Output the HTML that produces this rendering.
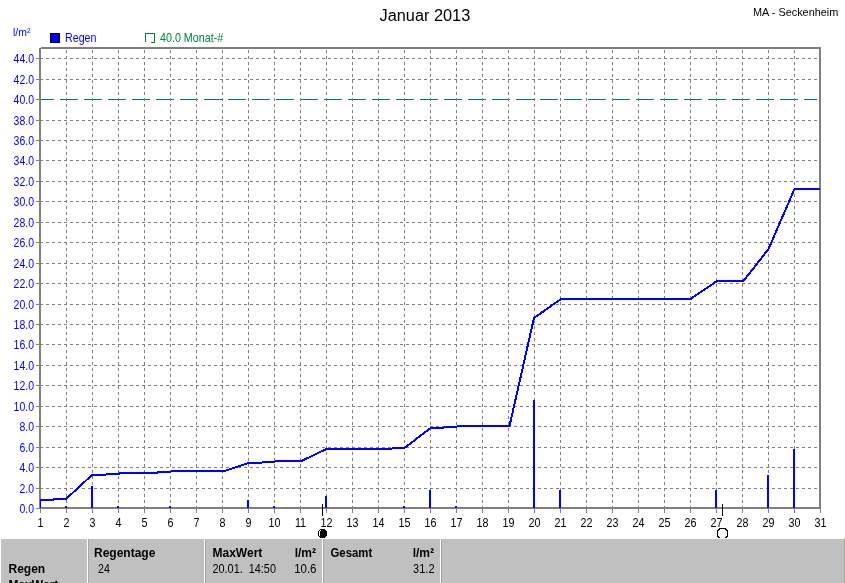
<!DOCTYPE html>
<html><head><meta charset="utf-8"><title>Januar 2013</title>
<style>
html,body{margin:0;padding:0;background:#fff;width:845px;height:583px;overflow:hidden}
svg{display:block;will-change:transform;font-family:"Liberation Sans", Arial, sans-serif}
.crisp{shape-rendering:crispEdges}
</style></head><body>
<svg width="845" height="583" viewBox="0 0 845 583">
<rect width="845" height="583" fill="#fff"/>
<g class="crisp">
<path d="M40 488.5H817 M40 467.5H817 M40 447.5H817 M40 426.5H817 M40 406.5H817 M40 385.5H817 M40 365.5H817 M40 344.5H817 M40 324.5H817 M40 304.5H817 M40 283.5H817 M40 263.5H817 M40 242.5H817 M40 222.5H817 M40 201.5H817 M40 181.5H817 M40 160.5H817 M40 140.5H817 M40 120.5H817 M40 79.5H817 M40 58.5H817" stroke="#808080" stroke-width="1" stroke-dasharray="3 3" fill="none"/>
<path d="M36 99.5H817" stroke="#008040" stroke-width="1" stroke-dasharray="18 6" fill="none"/>
<rect x="30" y="99" width="9" height="1" fill="#fff"/>
<path d="M66.5 50v457 M92.5 50v457 M118.5 50v457 M144.5 50v457 M170.5 50v457 M196.5 50v457 M222.5 50v457 M248.5 50v457 M274.5 50v457 M300.5 50v457 M326.5 50v457 M352.5 50v457 M378.5 50v457 M404.5 50v457 M430.5 50v457 M456.5 50v457 M482.5 50v457 M508.5 50v457 M534.5 50v457 M560.5 50v457 M586.5 50v457 M612.5 50v457 M638.5 50v457 M664.5 50v457 M690.5 50v457 M716.5 50v457 M742.5 50v457 M768.5 50v457 M794.5 50v457" stroke="#808080" stroke-width="1" stroke-dasharray="3 3" fill="none"/>
<rect x="41" y="47" width="780" height="2" fill="#808080"/>
<rect x="39" y="48" width="2" height="461" fill="#808080"/>
<rect x="819" y="47" width="2" height="462" fill="#808080"/>
<rect x="39" y="507" width="782" height="2" fill="#808080"/>
<path d="M36 508.5H39 M36 488.5H39 M36 467.5H39 M36 447.5H39 M36 426.5H39 M36 406.5H39 M36 385.5H39 M36 365.5H39 M36 344.5H39 M36 324.5H39 M36 304.5H39 M36 283.5H39 M36 263.5H39 M36 242.5H39 M36 222.5H39 M36 201.5H39 M36 181.5H39 M36 160.5H39 M36 140.5H39 M36 120.5H39 M36 99.5H39 M36 79.5H39 M36 58.5H39" stroke="#808080" stroke-width="1" fill="none"/>
<path d="M40.5 509V513 M66.5 509V513 M92.5 509V513 M118.5 509V513 M144.5 509V513 M170.5 509V513 M196.5 509V513 M222.5 509V513 M248.5 509V513 M274.5 509V513 M300.5 509V513 M326.5 509V513 M352.5 509V513 M378.5 509V513 M404.5 509V513 M430.5 509V513 M456.5 509V513 M482.5 509V513 M508.5 509V513 M534.5 509V513 M560.5 509V513 M586.5 509V513 M612.5 509V513 M638.5 509V513 M664.5 509V513 M690.5 509V513 M716.5 509V513 M742.5 509V513 M768.5 509V513 M794.5 509V513 M820.5 509V513" stroke="#808080" stroke-width="1" fill="none"/>
<rect x="65" y="506" width="2" height="2" fill="#0000ff"/>
<rect x="91" y="486" width="2" height="22" fill="#0000ff"/>
<rect x="117" y="506" width="2" height="2" fill="#0000ff"/>
<rect x="169" y="506" width="2" height="2" fill="#0000ff"/>
<rect x="247" y="500" width="2" height="8" fill="#0000ff"/>
<rect x="273" y="506" width="2" height="2" fill="#0000ff"/>
<rect x="325" y="496" width="2" height="12" fill="#0000ff"/>
<rect x="403" y="506" width="2" height="2" fill="#0000ff"/>
<rect x="429" y="490" width="2" height="18" fill="#0000ff"/>
<rect x="455" y="506" width="2" height="2" fill="#0000ff"/>
<rect x="533" y="400" width="2" height="108" fill="#0000ff"/>
<rect x="559" y="490" width="2" height="18" fill="#0000ff"/>
<rect x="715" y="490" width="2" height="18" fill="#0000ff"/>
<rect x="767" y="475" width="2" height="33" fill="#0000ff"/>
<rect x="793" y="449" width="2" height="59" fill="#0000ff"/>
<rect x="40" y="499" width="1" height="9" fill="#0000ff"/>
<path d="M40 500 L53 500 L54 499 L66 499 L92 475 L105.5 475 L106.5 474 L119 474 L120 473 L157 473 L158 472 L170.5 472 L171.5 471 L224.5 471 L248.5 463 L261.5 463 L262.5 462 L274.5 462 L275.5 461 L301.5 461 L326.5 449 L391.5 449 L392.5 448 L404.5 448 L430.5 428 L443.5 428 L444.5 427 L456.5 427 L457.5 426 L509.5 426 L534 318 L561 299 L690.5 299 L717 281 L743.5 281 L768.5 249 L794.5 189 L820 189" stroke="#0000ff" stroke-width="2" fill="none" stroke-linejoin="miter"/>
<rect x="322" y="504" width="1" height="12" fill="#000"/>
<path d="M320 529h5v1h1v1h1v5h-1v1h-1v1h-5v-1h-1v-1h-1v-5h1v-1h1z" fill="#000"/>
<path d="M319 531h1v5h-1zM320 530h1v1h-1z" fill="#fff"/>
<rect x="722" y="504" width="1" height="12" fill="#000"/>
<path d="M719 528h7v1h-7zM718 529h2v1h-2zM725 529h2v1h-2zM717 530h2v1h-2zM726 530h2v1h-2zM717 531h1v5h-1zM727 531h1v5h-1zM717 536h2v1h-2zM726 536h2v1h-2zM718 537h2v1h-2zM725 537h2v1h-2z" fill="#000"/>
</g>
<!-- legend -->
<rect x="50.5" y="33.5" width="9" height="9" fill="#0000ff" stroke="#000" stroke-width="1" class="crisp"/>
<path d="M145.5 42V33.5H154.5V42.5H151" stroke="#008040" stroke-width="1" fill="none" class="crisp"/>
<text transform="translate(379.5 21) scale(1.02 1)" font-size="16" fill="#000">Januar 2013</text>
<text transform="translate(753 16) scale(0.99 1)" font-size="11" fill="#000">MA - Seckenheim</text>
<text transform="translate(13 36) scale(0.95 1)" font-size="11" fill="#0000ff">l/m²</text>
<text transform="translate(65 42) scale(0.89 1)" font-size="12" fill="#0000ff">Regen</text>
<text transform="translate(160 42) scale(0.86 1)" font-size="12.5" fill="#008040">40.0 Monat-#</text>
<text transform="translate(34 513) scale(0.84 1)" font-size="12.5" fill="#0000ff" text-anchor="end">0.0</text>
<text transform="translate(34 493) scale(0.84 1)" font-size="12.5" fill="#0000ff" text-anchor="end">2.0</text>
<text transform="translate(34 472) scale(0.84 1)" font-size="12.5" fill="#0000ff" text-anchor="end">4.0</text>
<text transform="translate(34 452) scale(0.84 1)" font-size="12.5" fill="#0000ff" text-anchor="end">6.0</text>
<text transform="translate(34 431) scale(0.84 1)" font-size="12.5" fill="#0000ff" text-anchor="end">8.0</text>
<text transform="translate(34 411) scale(0.84 1)" font-size="12.5" fill="#0000ff" text-anchor="end">10.0</text>
<text transform="translate(34 390) scale(0.84 1)" font-size="12.5" fill="#0000ff" text-anchor="end">12.0</text>
<text transform="translate(34 370) scale(0.84 1)" font-size="12.5" fill="#0000ff" text-anchor="end">14.0</text>
<text transform="translate(34 349) scale(0.84 1)" font-size="12.5" fill="#0000ff" text-anchor="end">16.0</text>
<text transform="translate(34 329) scale(0.84 1)" font-size="12.5" fill="#0000ff" text-anchor="end">18.0</text>
<text transform="translate(34 309) scale(0.84 1)" font-size="12.5" fill="#0000ff" text-anchor="end">20.0</text>
<text transform="translate(34 288) scale(0.84 1)" font-size="12.5" fill="#0000ff" text-anchor="end">22.0</text>
<text transform="translate(34 268) scale(0.84 1)" font-size="12.5" fill="#0000ff" text-anchor="end">24.0</text>
<text transform="translate(34 247) scale(0.84 1)" font-size="12.5" fill="#0000ff" text-anchor="end">26.0</text>
<text transform="translate(34 227) scale(0.84 1)" font-size="12.5" fill="#0000ff" text-anchor="end">28.0</text>
<text transform="translate(34 206) scale(0.84 1)" font-size="12.5" fill="#0000ff" text-anchor="end">30.0</text>
<text transform="translate(34 186) scale(0.84 1)" font-size="12.5" fill="#0000ff" text-anchor="end">32.0</text>
<text transform="translate(34 165) scale(0.84 1)" font-size="12.5" fill="#0000ff" text-anchor="end">34.0</text>
<text transform="translate(34 145) scale(0.84 1)" font-size="12.5" fill="#0000ff" text-anchor="end">36.0</text>
<text transform="translate(34 125) scale(0.84 1)" font-size="12.5" fill="#0000ff" text-anchor="end">38.0</text>
<text transform="translate(34 104) scale(0.84 1)" font-size="12.5" fill="#0000ff" text-anchor="end">40.0</text>
<text transform="translate(34 84) scale(0.84 1)" font-size="12.5" fill="#0000ff" text-anchor="end">42.0</text>
<text transform="translate(34 63) scale(0.84 1)" font-size="12.5" fill="#0000ff" text-anchor="end">44.0</text>
<text transform="translate(40.5 527) scale(0.86 1)" font-size="12.5" fill="#000" text-anchor="middle">1</text>
<text transform="translate(66.5 527) scale(0.86 1)" font-size="12.5" fill="#000" text-anchor="middle">2</text>
<text transform="translate(92.5 527) scale(0.86 1)" font-size="12.5" fill="#000" text-anchor="middle">3</text>
<text transform="translate(118.5 527) scale(0.86 1)" font-size="12.5" fill="#000" text-anchor="middle">4</text>
<text transform="translate(144.5 527) scale(0.86 1)" font-size="12.5" fill="#000" text-anchor="middle">5</text>
<text transform="translate(170.5 527) scale(0.86 1)" font-size="12.5" fill="#000" text-anchor="middle">6</text>
<text transform="translate(196.5 527) scale(0.86 1)" font-size="12.5" fill="#000" text-anchor="middle">7</text>
<text transform="translate(222.5 527) scale(0.86 1)" font-size="12.5" fill="#000" text-anchor="middle">8</text>
<text transform="translate(248.5 527) scale(0.86 1)" font-size="12.5" fill="#000" text-anchor="middle">9</text>
<text transform="translate(274.5 527) scale(0.86 1)" font-size="12.5" fill="#000" text-anchor="middle">10</text>
<text transform="translate(300.5 527) scale(0.86 1)" font-size="12.5" fill="#000" text-anchor="middle">11</text>
<text transform="translate(326.5 527) scale(0.86 1)" font-size="12.5" fill="#000" text-anchor="middle">12</text>
<text transform="translate(352.5 527) scale(0.86 1)" font-size="12.5" fill="#000" text-anchor="middle">13</text>
<text transform="translate(378.5 527) scale(0.86 1)" font-size="12.5" fill="#000" text-anchor="middle">14</text>
<text transform="translate(404.5 527) scale(0.86 1)" font-size="12.5" fill="#000" text-anchor="middle">15</text>
<text transform="translate(430.5 527) scale(0.86 1)" font-size="12.5" fill="#000" text-anchor="middle">16</text>
<text transform="translate(456.5 527) scale(0.86 1)" font-size="12.5" fill="#000" text-anchor="middle">17</text>
<text transform="translate(482.5 527) scale(0.86 1)" font-size="12.5" fill="#000" text-anchor="middle">18</text>
<text transform="translate(508.5 527) scale(0.86 1)" font-size="12.5" fill="#000" text-anchor="middle">19</text>
<text transform="translate(534.5 527) scale(0.86 1)" font-size="12.5" fill="#000" text-anchor="middle">20</text>
<text transform="translate(560.5 527) scale(0.86 1)" font-size="12.5" fill="#000" text-anchor="middle">21</text>
<text transform="translate(586.5 527) scale(0.86 1)" font-size="12.5" fill="#000" text-anchor="middle">22</text>
<text transform="translate(612.5 527) scale(0.86 1)" font-size="12.5" fill="#000" text-anchor="middle">23</text>
<text transform="translate(638.5 527) scale(0.86 1)" font-size="12.5" fill="#000" text-anchor="middle">24</text>
<text transform="translate(664.5 527) scale(0.86 1)" font-size="12.5" fill="#000" text-anchor="middle">25</text>
<text transform="translate(690.5 527) scale(0.86 1)" font-size="12.5" fill="#000" text-anchor="middle">26</text>
<text transform="translate(716.5 527) scale(0.86 1)" font-size="12.5" fill="#000" text-anchor="middle">27</text>
<text transform="translate(742.5 527) scale(0.86 1)" font-size="12.5" fill="#000" text-anchor="middle">28</text>
<text transform="translate(768.5 527) scale(0.86 1)" font-size="12.5" fill="#000" text-anchor="middle">29</text>
<text transform="translate(794.5 527) scale(0.86 1)" font-size="12.5" fill="#000" text-anchor="middle">30</text>
<text transform="translate(820.5 527) scale(0.86 1)" font-size="12.5" fill="#000" text-anchor="middle">31</text>
<!-- bottom panel -->
<g class="crisp">
<rect x="1" y="539" width="843" height="44" fill="#c0c0c0"/>
<rect x="844" y="538" width="1" height="45" fill="#aca899"/>
<rect x="87" y="539" width="1" height="44" fill="#fff"/><rect x="88" y="539" width="1" height="44" fill="#aca899"/>
<rect x="204" y="539" width="1" height="44" fill="#fff"/><rect x="205" y="539" width="1" height="44" fill="#aca899"/>
<rect x="322" y="539" width="1" height="44" fill="#fff"/><rect x="323" y="539" width="1" height="44" fill="#aca899"/>
<rect x="440" y="539" width="1" height="44" fill="#fff"/><rect x="441" y="539" width="1" height="44" fill="#aca899"/>
</g>
<g font-size="12">
<text x="8.5" y="573" font-weight="bold">Regen</text>
<text x="8.5" y="589" font-weight="bold">MaxWert</text>
<text x="94" y="557" font-weight="bold">Regentage</text>
<text x="212.5" y="557" font-weight="bold">MaxWert</text>
<text x="316" y="557" font-weight="bold" text-anchor="end">l/m²</text>
<text transform="translate(330.5 557) scale(0.95 1)" font-weight="bold">Gesamt</text>
<text x="434" y="557" font-weight="bold" text-anchor="end">l/m²</text>
</g>
<g font-size="12.5">
<text transform="translate(98 573) scale(0.85 1)">24</text>
<text transform="translate(212.5 573) scale(0.87 1)" xml:space="preserve">20.01.  14:50</text>
<text transform="translate(316.5 573) scale(0.92 1)" text-anchor="end">10.6</text>
<text transform="translate(434.5 573) scale(0.88 1)" text-anchor="end">31.2</text>
</g>
</svg>
</body></html>
